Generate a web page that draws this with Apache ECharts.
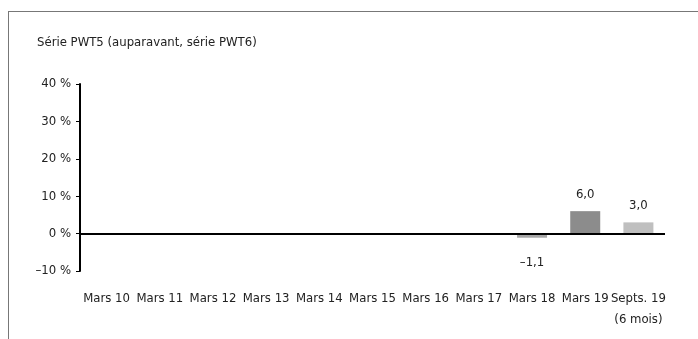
<!DOCTYPE html>
<html>
<head>
<meta charset="utf-8">
<script src="https://cdn.jsdelivr.net/npm/echarts@6/dist/echarts.min.js"></script>
<style>
  html, body { margin: 0; padding: 0; background: #fff; }
  #wrap { position: relative; width: 698px; height: 339px; }
  #frame { position: absolute; left: 8px; top: 11px; right: 0; bottom: 0;
           border-top: 1px solid #777; border-left: 1px solid #777; }
  #chart { position: absolute; left: 0; top: 0; width: 698px; height: 339px; }
</style>
</head>
<body>
<div id="wrap">
  <div id="frame"></div>
  <div id="chart"></div>
</div>
<script>
const categories = ['Mars 10', 'Mars 11', 'Mars 12', 'Mars 13', 'Mars 14', 'Mars 15',
  'Mars 16', 'Mars 17', 'Mars 18', 'Mars 19', 'Septs. 19\n(6 mois)']
const values = [null, null, null, null, null, null, null, null, -1.1, 6.0, 3.0]
const yTicks = [-10, 0, 10, 20, 30, 40]

const font = "'DejaVu Sans Condensed', 'Liberation Sans Narrow', sans-serif"
const barColors = ['#a6a6a6', '#a6a6a6', '#a6a6a6', '#a6a6a6', '#a6a6a6', '#a6a6a6',
  '#a6a6a6', '#a6a6a6', '#a6a6a6', '#8c8c8c', '#bfbfbf']

function fmt(v) {
  return (v < 0 ? '\u2013' : '') + Math.abs(v).toFixed(1).replace('.', ',')
}

const chart = echarts.init(document.getElementById('chart'))
chart.setOption({
  animation: false,
  textStyle: { fontFamily: font },
  title: {
    text: 'Série PWT5 (auparavant, série PWT6)',
    left: 32, top: 31,
    textStyle: { fontFamily: font, fontSize: 13, fontWeight: 'normal', color: '#222' }
  },
  grid: { left: 80, right: 33, top: 84, bottom: 68 },
  xAxis: {
    type: 'category',
    data: categories,
    axisLine: { show: false },
    axisTick: { show: false },
    axisLabel: { color: '#222', fontSize: 13, fontFamily: font, margin: 17, interval: 0, lineHeight: 21 }
  },
  yAxis: {
    type: 'value',
    min: yTicks[0],
    max: yTicks[yTicks.length - 1],
    interval: 10,
    axisLine: { show: true, lineStyle: { color: '#000', width: 2 } },
    axisTick: { show: true, length: 4, lineStyle: { color: '#000', width: 1 } },
    splitLine: { show: false },
    axisLabel: {
      color: '#222', fontSize: 13, fontFamily: font, margin: 9,
      formatter: v => (v < 0 ? '\u2013' + Math.abs(v) : v) + ' %'
    }
  },
  series: [{
    type: 'bar',
    barWidth: 30,
    data: values.map((v, i) => v === null ? null : {
      value: v,
      itemStyle: { color: barColors[i] },
      label: { show: true, position: v < 0 ? 'bottom' : 'top', distance: v < 0 ? 18 : 10 }
    }),
    label: {
      color: '#222', fontSize: 13, fontFamily: font,
      formatter: p => fmt(p.value)
    },
    markLine: {
      silent: true,
      symbol: 'none',
      label: { show: false },
      lineStyle: { color: '#000', width: 2, type: 'solid' },
      data: [{ yAxis: 0 }]
    }
  }]
})
</script>
</body>
</html>
